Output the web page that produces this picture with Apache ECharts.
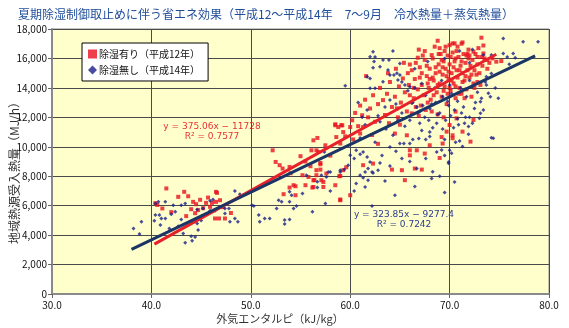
<!DOCTYPE html>
<html><head><meta charset="utf-8">
<script src="https://cdn.jsdelivr.net/npm/echarts@6/dist/echarts.min.js"></script>
<style>html,body{margin:0;padding:0;background:#fff}#c{width:569px;height:328px}</style>
</head><body><div id="c"></div>
<script>
var titleText = '夏期除湿制御取止めに伴う省エネ効果（平成12～平成14年　7～9月　冷水熱量＋蒸気熱量）';
var xName = '外気エンタルピ（kJ/kg）';
var yName = '地域熱源受入熱量（MJ/h）';
var seriesNames = ['除湿有り（平成12年）', '除湿無し（平成14年）'];
var xTicks = [30, 40, 50, 60, 70, 80];
var yTicks = [0, 2000, 4000, 6000, 8000, 10000, 12000, 14000, 16000, 18000];

// regression: [slope, intercept], x range
var redFit = [375.06, -11728];
var redRange = [40.3, 74.7];
var blueFit = [323.85, -9277.4];
var blueRange = [38.0, 78.6];
var redEq = ['y = 375.06x − 11728', 'R² = 0.7577'];
var blueEq = ['y = 323.85x − 9277.4', 'R² = 0.7242'];

// 除湿有り（平成12年）
var redPoints = [
[40.4,6170],[40.6,6050],[41.1,5810],[41.5,7170],[42.0,5560],[42.7,6600],[43.3,6940],[43.7,6640],[44.2,6260],[44.0,5760],
[44.4,5490],[44.7,5700],[43.5,5290],[45.2,5830],[45.5,6190],[46.1,6190],[46.5,6260],[46.6,6870],[46.9,6370],[46.4,5130],
[46.8,5130],[47.4,5130],[45.9,5920],[44.9,6400],[44.5,6100],[45.7,6550],[47.2,5900],[48.0,5500],[46.5,6940],
[52.2,9760],[52.5,8970],[52.9,8750],[53.2,8520],[53.9,8630],[55.0,9360],[56.3,10440],[56.7,10600],[56.1,9760],[56.6,9760],
[56.8,9650],[58.5,11530],[58.8,11340],[59.1,11460],[59.3,11000],[58.6,10660],[59.0,10220],[54.3,7390],[54.5,7320],[53.9,7230],
[53.3,6780],[54.5,6710],[55.5,7390],[55.8,7950],[55.2,8070],[56.3,7270],[56.3,7730],[56.6,8410],[57.0,8450],[57.1,7730],
[57.3,7270],[57.6,8180],[57.0,8810],[58.5,7390],[59.0,6420],[58.9,8000],[56.0,8680],[57.0,8900],[59.3,8410],[56.6,8070],
[56.4,7730],[57.3,7610],[56.2,7230],[58.5,11460],[59.2,11460],[59.5,10710],[59.0,6370],[59.6,8610],[59.0,8020],[58.0,9400],
[57.5,10100],[55.5,9000],[54.0,8200],
[70.0,16900],[70.3,17020],[71.3,17090],[73.2,17410],[72.4,16460],[73.4,16340],[74.7,15780],[75.2,15820],[70.5,17020],[68.2,16230],
[66.8,16050],[66.0,15590],[61.6,14800],[69.0,16700],[67.5,16500],[68.8,17200],[71.8,16320],[72.8,16100],[73.8,15900],[73.4,16880],
[71.2,17000],
[66.2,15200],[66.5,14600],[66.8,13900],[67.0,15400],[67.2,14200],[67.4,13500],[67.5,15900],[67.7,14800],[67.9,14000],[68.0,15300],
[68.1,13200],[68.3,16000],[68.4,14500],[68.6,15000],[68.7,13700],[68.9,15600],[69.0,14300],[69.1,16300],[69.2,13400],[69.3,14900],
[69.4,15800],[69.5,14100],[69.6,15300],[69.7,12900],[69.8,16200],[69.9,14600],[70.0,15600],[70.1,13800],[70.2,15000],[70.3,16400],
[70.4,14300],[70.5,15800],[70.6,13300],[70.7,15200],[70.8,14700],[70.9,16100],[71.0,14000],[71.1,15500],[71.2,13600],[71.3,15000],
[71.4,16300],[71.5,14500],[71.6,15700],[71.7,13900],[71.8,15200],[71.9,16000],[72.0,14700],[72.1,15500],[72.2,13400],[72.3,15900],
[72.4,14300],[72.5,15200],[72.6,16300],[72.7,14900],[72.8,15600],[73.0,15000],[73.1,14200],[73.3,15500],[73.5,16000],[73.8,15300],
[74.0,15700],[74.3,16000],[67.3,16200],[66.9,16600],[68.5,16800],[69.6,16800],[70.8,16800],[71.9,16600],[72.9,16700],
[68.3,14700],[68.8,14200],[69.3,15400],[69.8,13600],[70.2,14500],[70.6,16000],[71.0,15200],[71.6,14800],[72.0,16200],[72.5,14000],
[69.0,15100],[70.0,14000],[70.9,13600],[71.3,14400],[69.5,16500],[68.0,14600],[67.7,15500],[67.0,14700],[66.4,14000],[65.8,15000],
[68.6,15400],[69.2,15900],[69.7,14800],[70.4,15400],[70.7,16500],[71.2,15800],[71.7,16200],[72.2,14900],[68.9,16300],[70.1,16100],
[67.8,14300],[68.4,13500],[69.4,13800],[70.6,14100],[71.5,13300],[72.8,14400],[73.2,16100],[66.6,15700],[67.2,15000],[69.9,15100],
[60.2,11800],[60.5,12300],[60.8,11400],[61.0,12800],[61.3,11340],[61.2,12140],[61.5,13200],[61.8,12000],[62.0,12600],[62.3,13500],
[62.5,11700],[62.8,12900],[63.0,14000],[63.3,13170],[63.5,12160],[63.7,13600],[64.0,14400],[64.2,12700],[64.5,13400],[64.7,12610],
[64.9,14100],[65.1,13000],[65.3,14640],[65.5,13700],[65.7,12400],[65.9,14200],[66.2,12270],[66.4,13300],[66.6,12700],[66.9,12100],
[67.1,12800],[67.6,12500],[68.2,12400],[68.8,12200],[69.4,12000],[63.8,15000],[64.6,15300],[65.4,15700],[65.0,11500],[62.2,10800],
[61.0,10900],[64.5,10900],[65.7,10780],[66.0,9760],[66.7,9760],[61.3,8750],[62.3,8860],[64.2,8450],[65.2,8410],[67.2,8450],
[67.5,9540],[68.0,10100],[69.3,10220],[69.2,10660],[70.3,10780],[65.5,7730],[60.0,6710],[66.5,8520],[69.0,9240],[66.0,9420],
[72.4,11820],[72.1,10350],[71.3,11030],[70.7,11930],[70.0,11480],[70.3,10580],[69.7,11030],[70.6,12390],[60.0,11340],[60.3,10500],
[62.8,10200],[63.9,11600],[64.8,12000],[66.0,13500],[67.8,13000]
];

// 除湿無し（平成14年）
var bluePoints = [
[38.2,4450],[39.0,4900],[38.8,4070],[40.4,6150],[40.7,6260],[41.4,6260],[40.4,5360],[40.8,5360],[40.3,4970],[41.0,5130],
[41.4,5130],[40.9,4680],[42.0,5420],[42.4,5580],[42.2,6030],[43.0,6030],[43.4,6150],[43.0,5060],[43.2,4110],[43.4,3480],
[44.0,3930],[44.1,3610],[44.4,3880],[44.7,4340],[44.6,4790],[45.0,5000],[45.1,5290],[44.6,5740],[45.2,5810],[45.9,6330],
[46.2,6420],[45.9,5650],[46.4,5650],[47.4,5810],[47.8,5810],[47.4,5470],[47.9,4900],[48.4,7000],[48.9,6780],[48.4,5130],
[48.7,4900],[42.7,4600],[41.8,4450],
[50.3,5970],[50.8,5360],[50.9,4900],[51.4,5130],[51.9,5130],[52.8,6370],[53.1,6260],[53.4,5020],[53.4,4750],[53.9,5060],
[53.9,6260],[54.1,6710],[54.3,5800],[54.6,5970],[56.2,5580],[57.5,6150],[50.1,6030],[52.6,5810],[53.9,6940],[55.2,6830],
[56.7,7230],[56.7,7620],[57.1,8070],[57.8,8290],[59.0,8290],[59.4,8450],[59.8,8750],[55.6,8070],[57.4,9650],[57.6,7950],
[58.0,8290],[58.0,7000],
[60.0,9420],[60.4,9200],[60.6,9760],[61.0,9500],[61.3,9650],[61.7,9310],[62.0,8970],[61.8,8520],[62.2,8290],[61.5,8290],
[61.0,8070],[61.3,7900],[62.3,8220],[62.8,8410],[63.0,8900],[61.8,7730],[61.5,7270],[60.6,7500],[60.4,7000],[63.5,7680],
[64.3,10780],[64.0,9990],[64.6,9700],[65.0,10220],[65.4,10220],[66.0,10220],[66.3,10500],[66.9,10560],[67.2,11100],[67.6,10500],
[68.0,10700],[66.7,8520],[68.2,7840],[69.9,8970],[70.0,9760],[69.5,9400],[68.7,9650],[62.2,5970],[59.0,8410],[63.2,9400],
[64.0,8700],[65.2,9200],[66.0,9000],[67.6,9200],[68.3,8300],[70.2,9560],[69.9,8880],[69.2,9780],[71.3,10020],[71.0,10400],
[63.6,11200],[62.5,10300],[61.0,10600],[65.5,11400],[69.0,8000],[70.5,7600],[69.5,6900],[66.5,7300],[64.5,6700],[74.2,10620],
[59.5,14150],[62.3,16460],[62.5,16100],[62.0,16120],[62.4,15800],[63.3,15890],[63.9,15890],[64.3,16500],[63.0,15440],[62.3,15370],
[63.8,15210],[65.0,15660],[64.7,15000],[64.0,14870],[64.4,14870],[65.0,14870],[64.8,14530],[65.2,14400],[63.3,14420],[62.0,14640],
[61.7,14760],[62.0,13970],[62.5,13970],[65.5,14200],[66.0,14080],[66.5,14000],[65.8,13800],[66.3,13000],[64.0,13170],[64.6,12900],
[66.2,12950],[66.7,12700],[61.7,12500],[61.2,12000],[62.8,12100],[63.5,12700],[60.8,13000],[61.5,11500],[63.0,11700],[64.8,11800],
[66.0,11800],[65.2,12300],
[75.4,17360],[77.4,17130],[78.9,17130],[74.2,16230],[75.4,16340],[76.4,16340],[75.8,16100],[76.6,16050],[73.4,16230],[72.0,15700],
[73.7,14760],[74.2,14980],[73.7,14190],[74.9,13290],[73.9,13630],[74.1,13400],[73.2,13290],[73.1,13060],[73.4,12500],[73.1,12270],
[73.0,11930],[71.9,11370],[71.9,10850],[74.4,10580],[71.5,11600],[70.8,11900],[67.0,11600],[67.5,12000],[68.0,12600],[68.3,11300],
[68.6,13000],[69.0,12300],[69.3,13400],[69.6,11800],[69.9,12800],[70.2,13600],[70.5,12500],[70.8,13100],[71.1,14000],[71.4,12700],
[71.7,13400],[72.0,12000],[72.3,14100],[72.6,13000],[72.8,13700],[70.0,14200],[69.2,14500],[68.5,14000],[67.6,13500],[67.2,14300],
[66.8,12300],[70.4,11300],[71.2,12300],[72.5,12600],[68.0,11000],[69.5,10500],[70.6,10300],[66.5,15300],[67.8,15800],[69.5,16000],
[71.0,16500],[72.3,16600],[73.6,14400],[74.6,14000],[68.8,12200],[67.3,12800],[72.0,14500],[76.0,15600],
[67.9,11800],[68.7,11600],[69.3,11200],[70.1,12100],[70.9,11500],[71.6,12000],[72.3,11600],[69.8,13100],[68.2,12900],[67.0,12400]
];

function fitLine(fit, range) {
  return range.map(function (x) { return [x, fit[0] * x + fit[1]]; });
}

var chart = echarts.init(document.getElementById('c'), null, {renderer: 'canvas'});
var FONT = '"Noto Sans CJK JP", "Noto Sans", sans-serif';

chart.setOption({
  animation: false,
  backgroundColor: '#ffffff',
  textStyle: {fontFamily: FONT},
  title: {
    text: titleText, left: 13, top: 3,
    textStyle: {fontSize: 12, fontWeight: 'normal', color: '#1f4d9a', fontFamily: FONT}
  },
  legend: {
    orient: 'vertical', left: 82, top: 43,
    backgroundColor: '#ffffff', borderColor: '#000000', borderWidth: 1,
    padding: [6, 8, 6, 6], itemGap: 6, itemWidth: 9, itemHeight: 9,
    textStyle: {fontSize: 10, color: '#111', fontFamily: FONT, padding: [0, 0, 0, -3]},
    data: [
      {name: seriesNames[0], icon: 'rect'},
      {name: seriesNames[1], icon: 'diamond'}
    ]
  },
  grid: {
    left: 52, right: 20, top: 29, bottom: 34,
    show: true, backgroundColor: '#ffffcc', borderColor: '#8a8a8a', borderWidth: 1
  },
  xAxis: {
    type: 'value', min: xTicks[0], max: xTicks[xTicks.length - 1], interval: 10,
    axisLine: {show: true, onZero: false, lineStyle: {color: '#8a8a8a', width: 2}},
    axisTick: {show: true, length: 4, lineStyle: {color: '#666'}},
    axisLabel: {fontSize: 10, color: '#111', margin: 6, fontFamily: FONT,
      formatter: function (v) { return v.toFixed(1); }},
    splitLine: {show: true, lineStyle: {color: '#4a4a4a', width: 1}}
  },
  yAxis: {
    type: 'value', min: yTicks[0], max: yTicks[yTicks.length - 1], interval: 2000,
    axisLine: {show: true, onZero: false, lineStyle: {color: '#8a8a8a', width: 2}},
    axisTick: {show: true, length: 4, lineStyle: {color: '#666'}},
    axisLabel: {fontSize: 10, color: '#111', margin: 5, fontFamily: FONT,
      formatter: function (v) { return v.toLocaleString('en-US'); }},
    splitLine: {show: true, lineStyle: {color: '#4a4a4a', width: 1}}
  },
  graphic: [
    {type: 'text', x: 280, y: 319,
      style: {text: xName, fill: '#333', font: '11px ' + FONT, align: 'center', verticalAlign: 'middle'}},
    {type: 'text', x: 14, y: 170, rotation: Math.PI / 2,
      style: {text: yName, fill: '#333', font: '12px ' + FONT, align: 'center', verticalAlign: 'middle'}},
    {type: 'text', x: 212, y: 122, style: {text: redEq.join('\n'), fill: '#e8303a', font: '9px "DejaVu Sans", sans-serif', align: 'center', lineHeight: 10}},
    {type: 'text', x: 404, y: 210, style: {text: blueEq.join('\n'), fill: '#2a3a8c', font: '9px "DejaVu Sans", sans-serif', align: 'center', lineHeight: 10}}
  ],
  series: [
    {name: seriesNames[0], type: 'scatter', symbol: 'rect', symbolSize: 4,
      itemStyle: {color: '#e8101e'}, data: redPoints, z: 3},
    {name: seriesNames[1], type: 'scatter', symbol: 'diamond', symbolSize: 4,
      itemStyle: {color: '#1a1f8a'}, data: bluePoints, z: 4},
    {name: 'redFit', type: 'line', data: fitLine(redFit, redRange), symbol: 'none',
      lineStyle: {color: '#e8202a', width: 3}, z: 5, silent: true},
    {name: 'blueFit', type: 'line', data: fitLine(blueFit, blueRange), symbol: 'none',
      lineStyle: {color: '#1b3566', width: 3}, z: 6, silent: true}
  ]
});
</script></body></html>
